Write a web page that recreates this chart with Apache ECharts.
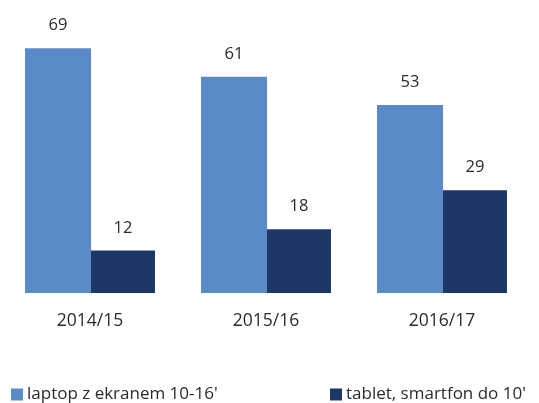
<!DOCTYPE html>
<html>
<head>
<meta charset="utf-8">
<script src="https://cdn.jsdelivr.net/npm/echarts@6/dist/echarts.min.js"></script>
<style>
  html, body { margin: 0; padding: 0; background: #fff; }
  #chart { width: 539px; height: 403px; }
</style>
</head>
<body>
<div id="chart"></div>
<script>
const categories = ["2014/15", "2015/16", "2016/17"];
const laptopValues = [69, 61, 53];
const tabletValues = [12, 18, 29];
const seriesNames = ["laptop z ekranem 10-16'", "tablet, smartfon do 10'"];

const LIGHT = "#5a8bc8";
const DARK = "#1b3866";
const FONT = "Open Sans";
const TEXT = "#2b2b2b";

const chart = echarts.init(document.getElementById("chart"));

const labelStyle = {
  show: true,
  position: "top",
  distance: 14,
  color: TEXT,
  fontSize: 16.5,
  fontFamily: FONT,
};

const legendText = { color: TEXT, fontSize: 17, fontFamily: FONT, padding: [0, 0, 0, -1] };

const option = {
  animation: false,
  textStyle: { fontFamily: FONT },
  grid: {
    left: 2,
    right: 9,
    top: 27,
    bottom: 110,
    containLabel: false,
  },
  legend: [
    {
      data: [seriesNames[0]],
      left: 11,
      top: 386,
      padding: 0,
      icon: "rect",
      itemWidth: 12,
      itemHeight: 12,
      textStyle: legendText,
    },
    {
      data: [seriesNames[1]],
      left: 330,
      top: 386,
      padding: 0,
      icon: "rect",
      itemWidth: 12,
      itemHeight: 12,
      textStyle: legendText,
    },
  ],
  xAxis: {
    type: "category",
    data: categories,
    axisLine: { show: false },
    axisTick: { show: false },
    axisLabel: {
      color: TEXT,
      fontSize: 17.5,
      fontFamily: FONT,
      margin: 19,
    },
  },
  yAxis: {
    type: "value",
    min: 0,
    max: 75,
    show: false,
    splitLine: { show: false },
  },
  series: [
    {
      name: seriesNames[0],
      type: "bar",
      data: laptopValues,
      barWidth: 66,
      barGap: "0%",
      itemStyle: { color: LIGHT },
      label: labelStyle,
    },
    {
      name: seriesNames[1],
      type: "bar",
      data: tabletValues,
      barWidth: 64,
      barGap: "0%",
      itemStyle: { color: DARK },
      label: labelStyle,
    },
  ],
};

chart.setOption(option);
window.addEventListener("resize", () => chart.resize());
</script>
</body>
</html>
